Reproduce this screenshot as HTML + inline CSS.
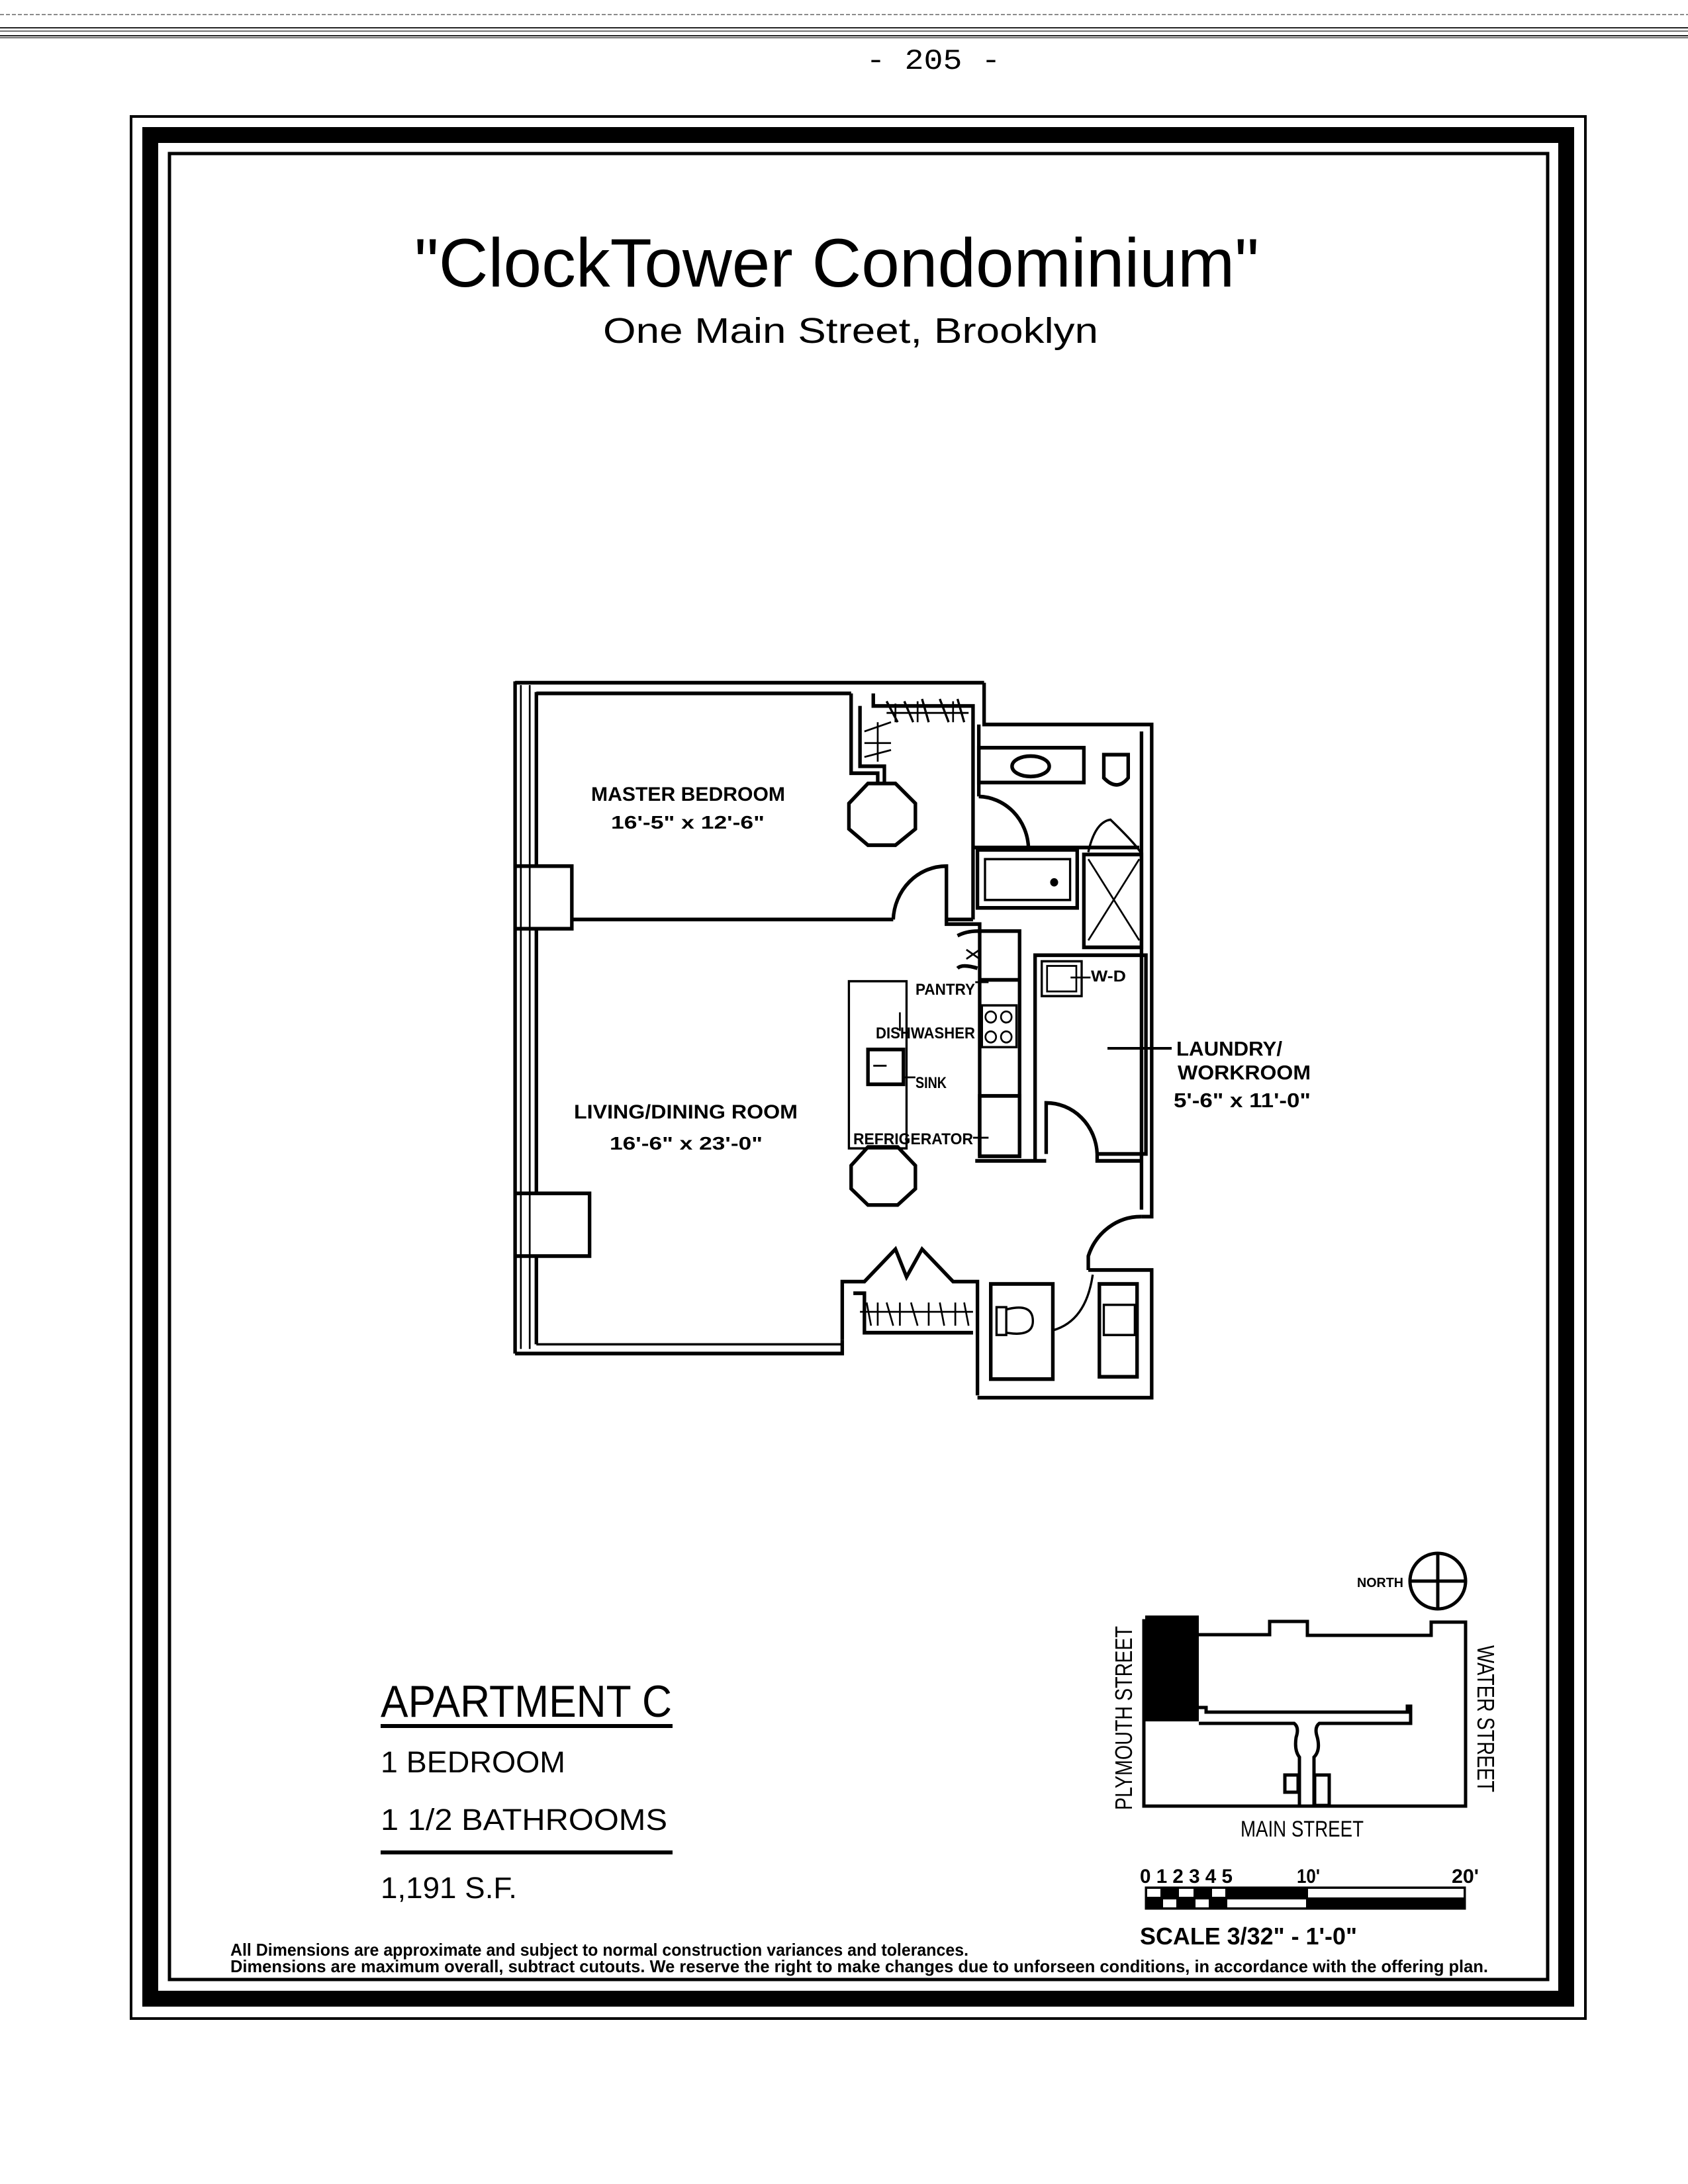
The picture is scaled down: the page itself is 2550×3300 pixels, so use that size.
<!DOCTYPE html>
<html><head><meta charset="utf-8"><style>
html,body{margin:0;padding:0;background:#fff}
svg{display:block}
text{font-family:"Liberation Sans",sans-serif;fill:#000}
</style></head><body>
<svg width="2550" height="3300" viewBox="0 0 2550 3300" xmlns="http://www.w3.org/2000/svg">
<rect width="2550" height="3300" fill="#fff"/>
<!-- header rules -->
<line x1="0" y1="22" x2="2550" y2="22" stroke="#666" stroke-width="1.5" stroke-dasharray="6 3"/>
<line x1="0" y1="42" x2="2550" y2="42" stroke="#222" stroke-width="2"/>
<line x1="0" y1="47" x2="2550" y2="47" stroke="#444" stroke-width="1.5"/>
<line x1="0" y1="54" x2="2550" y2="54" stroke="#222" stroke-width="2"/>
<line x1="0" y1="57" x2="2550" y2="57" stroke="#444" stroke-width="1.5"/>
<text x="1410" y="104" font-family="Liberation Mono,monospace" style="font-family:'Liberation Mono',monospace" font-size="44" text-anchor="middle" textLength="203" lengthAdjust="spacingAndGlyphs">- 205 -</text>

<!-- frames -->
<rect x="198" y="176" width="2197" height="2874" fill="none" stroke="#000" stroke-width="4"/>
<rect x="227" y="204" width="2139" height="2816" fill="none" stroke="#000" stroke-width="24"/>
<rect x="256" y="232" width="2082" height="2759" fill="none" stroke="#000" stroke-width="5"/>

<!-- titles -->
<text x="626" y="433" font-size="104" textLength="1276" lengthAdjust="spacingAndGlyphs">"ClockTower Condominium"</text>
<text x="911" y="518" font-size="54" textLength="748" lengthAdjust="spacingAndGlyphs">One Main Street, Brooklyn</text>

<!-- floor plan (coords in stretched zoom space) -->
<g transform="translate(750,1000) scale(0.6697,0.7015)" fill="none" stroke="#000" stroke-width="8" stroke-linejoin="miter">
  <!-- left wall and windows -->
  <line x1="42" y1="42" x2="42" y2="1490"/>
  <line x1="55" y1="50" x2="55" y2="1480" stroke-width="4"/>
  <line x1="75" y1="50" x2="75" y2="1480" stroke-width="4"/>
  <line x1="90" y1="65" x2="90" y2="440"/>
  <line x1="90" y1="575" x2="90" y2="1145"/>
  <line x1="90" y1="1280" x2="90" y2="1470"/>
  <!-- columns -->
  <path d="M42,440 H170 V575 H42"/>
  <path d="M42,1145 H210 V1280 H42"/>
  <!-- top wall -->
  <line x1="42" y1="45" x2="1100" y2="45"/>
  <line x1="90" y1="68" x2="800" y2="68"/>
  <path d="M1100,45 V135 H1478 V1195 H1455"/>
  <line x1="1455" y1="150" x2="1455" y2="1180"/>
  <!-- bedroom closet -->
  <path d="M800,68 V240 H860 V262"/>
  <path d="M850,68 V95 H1075 V555"/>
  <path d="M820,95 V225 H875 V262"/>
  <path d="M880,85 L905,130 M920,85 L940,130 M960,80 L975,130 M1000,80 L1020,130 M1040,80 L1055,130" stroke-width="5"/>
  <path d="M900,90 V130 M950,85 V130 M1030,85 V130" stroke-width="4"/>
  <line x1="880" y1="110" x2="1065" y2="110" stroke-width="4"/>
  <path d="M830,150 L890,130 M830,175 L890,175 M830,205 L890,190 M860,130 V215" stroke-width="4"/>
  <!-- octagons -->
  <polygon points="838,262 900,262 945,305 945,360 900,395 838,395 795,360 795,305"/>
  <polygon points="838,1045 905,1045 945,1085 945,1135 905,1170 838,1170 800,1135 800,1085"/>
  <!-- bedroom bottom wall & door -->
  <path d="M170,555 H895"/>
  <path d="M895,555 A120,120 0 0 1 1015,440 V555 H1075" />
  <path d="M1015,555 V565 H1090 V585"/>
  <!-- upper bath -->
  <path d="M1088,135 V290"/>
  <rect x="1088" y="185" width="237" height="75"/>
  <ellipse cx="1205" cy="225" rx="42" ry="22"/>
  <path d="M1370,200 H1425 V250 Q1400,280 1370,250 Z"/>
  <path d="M1088,290 A115,115 0 0 1 1200,400"/>
  <path d="M1075,400 H1450"/>
  <rect x="1085" y="405" width="225" height="125"/>
  <rect x="1102" y="425" width="192" height="88" stroke-width="5"/>
  <circle cx="1258" cy="475" r="5" fill="#000"/>
  <rect x="1325" y="415" width="130" height="200"/>
  <path d="M1335,425 L1450,600 M1450,425 L1335,600" stroke-width="4"/>
  <path d="M1335,410 Q1350,345 1385,340 Q1450,400 1455,415" stroke-width="5"/>
  <!-- kitchen -->
  <path d="M1040,590 Q1060,580 1085,580 H1180 V1065"/>
  <path d="M1040,660 Q1050,650 1085,660"/>
  <path d="M1060,620 L1090,640 M1060,640 L1090,620" stroke-width="4"/>
  <line x1="1090" y1="580" x2="1090" y2="1065"/>
  <line x1="1090" y1="685" x2="1180" y2="685"/>
  <rect x="1095" y="740" width="78" height="90" stroke-width="5"/>
  <circle cx="1115" cy="765" r="12" stroke-width="4"/>
  <circle cx="1150" cy="765" r="12" stroke-width="4"/>
  <circle cx="1115" cy="808" r="12" stroke-width="4"/>
  <circle cx="1150" cy="808" r="12" stroke-width="4"/>
  <rect x="1090" y="935" width="90" height="130"/>
  <path d="M1080,1075 H1240"/>
  <!-- island -->
  <rect x="795" y="688" width="130" height="360" stroke-width="5"/>
  <rect x="838" y="835" width="80" height="75"/>
  <path d="M850,870 H880 M910,755 V795 M918,895 H945 M1075,1025 H1110 M1080,690 H1110" stroke-width="4"/>
  <!-- laundry -->
  <path d="M1215,1075 V632 H1465 V1060 H1355"/>
  <path d="M1240,1060 V950 A115,115 0 0 1 1355,1060 V1075 H1455"/>
  <rect x="1230" y="645" width="90" height="75" stroke-width="5"/>
  <rect x="1242" y="655" width="66" height="55" stroke-width="4"/>
  <path d="M1295,680 H1340" stroke-width="4"/>
  <!-- entry door -->
  <path d="M1335,1310 V1280 A125,125 0 0 1 1455,1195"/>
  <!-- bottom wall -->
  <path d="M42,1490 H780 V1460"/>
  <line x1="90" y1="1470" x2="780" y2="1470" stroke-width="5"/>
  <!-- bottom closet -->
  <path d="M780,1460 V1335 H830 L900,1265 L925,1325 L960,1265 L1030,1335 H1085 V1580"/>
  <path d="M805,1360 H830 V1445 H1075"/>
  <path d="M820,1400 H1075" stroke-width="4"/>
  <path d="M835,1380 L845,1430 M860,1380 V1430 M880,1380 L895,1430 M910,1380 V1430 M935,1380 L950,1430 M975,1380 V1430 M1000,1380 L1010,1430 M1035,1380 V1430 M1055,1380 L1065,1430" stroke-width="4"/>
  <!-- half bath -->
  <path d="M1085,1585 H1478 V1310 H1335"/>
  <rect x="1115" y="1340" width="140" height="205"/>
  <path d="M1128,1390 H1150 V1450 H1128 Z M1150,1395 Q1210,1380 1210,1420 Q1210,1455 1150,1445" stroke-width="5"/>
  <path d="M1255,1440 Q1330,1420 1345,1320" stroke-width="5"/>
  <rect x="1360" y="1340" width="85" height="200"/>
  <rect x="1370" y="1385" width="70" height="65" stroke-width="5"/>
</g>
<g font-weight="bold">
<text x="893" y="1210" font-size="30" textLength="293" lengthAdjust="spacingAndGlyphs">MASTER BEDROOM</text>
<text x="923" y="1252" font-size="28" textLength="232" lengthAdjust="spacingAndGlyphs">16'-5" x 12'-6"</text>
<text x="867" y="1690" font-size="30" textLength="338" lengthAdjust="spacingAndGlyphs">LIVING/DINING ROOM</text>
<text x="921" y="1737" font-size="28" textLength="231" lengthAdjust="spacingAndGlyphs">16'-6" x 23'-0"</text>
<text x="1383" y="1503" font-size="24" textLength="90" lengthAdjust="spacingAndGlyphs">PANTRY</text>
<text x="1323" y="1569" font-size="24" textLength="150" lengthAdjust="spacingAndGlyphs">DISHWASHER</text>
<text x="1383" y="1644" font-size="24" textLength="47" lengthAdjust="spacingAndGlyphs">SINK</text>
<text x="1289" y="1729" font-size="24" textLength="181" lengthAdjust="spacingAndGlyphs">REFRIGERATOR</text>
<text x="1648" y="1483" font-size="24" textLength="53" lengthAdjust="spacingAndGlyphs">W-D</text>
<text x="1777" y="1595" font-size="31" textLength="160" lengthAdjust="spacingAndGlyphs">LAUNDRY/</text>
<text x="1779" y="1631" font-size="31" textLength="201" lengthAdjust="spacingAndGlyphs">WORKROOM</text>
<text x="1773" y="1673" font-size="31" textLength="207" lengthAdjust="spacingAndGlyphs">5'-6" x 11'-0"</text>
</g>
<line x1="1673" y1="1584" x2="1770" y2="1584" stroke="#000" stroke-width="4"/>

<!-- apartment info -->
<text x="575" y="2594" font-size="68" textLength="440" lengthAdjust="spacingAndGlyphs">APARTMENT C</text>
<rect x="575" y="2605" width="441" height="6" fill="#000"/>
<text x="575" y="2678" font-size="45" textLength="279" lengthAdjust="spacingAndGlyphs">1 BEDROOM</text>
<text x="575" y="2765" font-size="45" textLength="433" lengthAdjust="spacingAndGlyphs">1 1/2 BATHROOMS</text>
<rect x="575" y="2796" width="441" height="6" fill="#000"/>
<text x="575" y="2868" font-size="45" textLength="206" lengthAdjust="spacingAndGlyphs">1,191   S.F.</text>
<text x="348" y="2955" font-size="26" font-weight="bold" textLength="1115" lengthAdjust="spacingAndGlyphs">All Dimensions are approximate and subject to normal construction variances and tolerances.</text>
<text x="348" y="2980" font-size="26" font-weight="bold" textLength="1900" lengthAdjust="spacingAndGlyphs">Dimensions are maximum overall, subtract cutouts.  We reserve the right to make changes due to unforseen conditions, in accordance with the offering plan.</text>

<!-- key map -->
<g fill="none" stroke="#000" stroke-width="5">
<circle cx="2172" cy="2389" r="42"/>
<line x1="2130" y1="2389" x2="2214" y2="2389"/>
<line x1="2172" y1="2347" x2="2172" y2="2431"/>
<path d="M1728,2449 H1779 V2470 H1918 V2450 H1975 V2471 H2162 V2451 H2214 V2729 H1728 Z"/>
<path d="M1811,2580 H1822 V2587 H2126 V2578 H2131 V2604 H1993 Q1985,2610 1990,2625 Q1995,2645 1985,2655 V2729 M1963,2729 V2655 Q1955,2645 1958,2625 Q1963,2610 1955,2604 H1811"/>
<rect x="1941" y="2682" width="20" height="26"/>
<rect x="1986" y="2682" width="22" height="46"/>
</g>
<rect x="1730" y="2441" width="81" height="160" fill="#000"/>
<text x="2050" y="2398" font-size="20" font-weight="bold" textLength="70" lengthAdjust="spacingAndGlyphs">NORTH</text>
<text transform="translate(1710,2735) rotate(-90)" font-size="36" textLength="278" lengthAdjust="spacingAndGlyphs">PLYMOUTH  STREET</text>
<text transform="translate(2232,2486) rotate(90)" font-size="36" textLength="222" lengthAdjust="spacingAndGlyphs">WATER  STREET</text>
<text x="1874" y="2775" font-size="34" textLength="186" lengthAdjust="spacingAndGlyphs">MAIN STREET</text>
<text x="1722" y="2845" font-size="30" font-weight="bold" textLength="140" lengthAdjust="spacingAndGlyphs">0 1 2 3 4 5</text>
<text x="1959" y="2845" font-size="30" font-weight="bold" textLength="35" lengthAdjust="spacingAndGlyphs">10'</text>
<text x="2193" y="2845" font-size="30" font-weight="bold" textLength="41" lengthAdjust="spacingAndGlyphs">20'</text>
<rect x="1731" y="2852" width="482" height="32" fill="#000" stroke="#000" stroke-width="3"/>
<rect x="1733" y="2854" width="20" height="12" fill="#fff"/>
<rect x="1781" y="2854" width="22" height="12" fill="#fff"/>
<rect x="1831" y="2854" width="20" height="12" fill="#fff"/>
<rect x="1976" y="2854" width="235" height="13" fill="#fff"/>
<rect x="1757" y="2870" width="20" height="12" fill="#fff"/>
<rect x="1806" y="2870" width="20" height="12" fill="#fff"/>
<rect x="1854" y="2870" width="119" height="12" fill="#fff"/>
<text x="1722" y="2938" font-size="36" font-weight="bold" textLength="328" lengthAdjust="spacingAndGlyphs">SCALE 3/32" - 1'-0"</text>
</svg>
</body></html>
